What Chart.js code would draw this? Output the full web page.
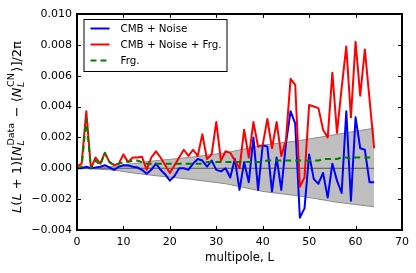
<!DOCTYPE html>
<html>
<head>
<meta charset="utf-8">
<script src="https://cdn.jsdelivr.net/npm/chart.js@4.4.1/dist/chart.umd.min.js"></script>
<style>
  html, body { margin: 0; padding: 0; background: #fff; }
</style>
</head>
<body>
<canvas id="spectrum" width="416" height="273"></canvas>
<script>
// multipole L of each point
const multipoles = [0, 1, 2, 3, 4, 5, 6, 7, 8, 9,
  10, 11, 12, 13, 14, 15, 16, 17, 18, 19,
  20, 21, 22, 23, 24, 25, 26, 27, 28, 29,
  30, 31, 32, 33, 34, 35, 36, 37, 38, 39,
  40, 41, 42, 43, 44, 45, 46, 47, 48, 49,
  50, 51, 52, 53, 54, 55, 56, 57, 58, 59,
  60, 61, 62, 63, 64];

// CMB + Noise (blue)
const cmbNoise = [0, 0, 0.0001, 0.0, 0.00005, 0.0001, 0.0002, 0.00005, -0.0001, 0.0001,
  0.0002, 0.00018, 0.0001, 0.00005, -0.0001, -0.00035, -0.0001, 0.0003, -0.0001, -0.0004,
  -0.0008, -0.0005, 0.0, 0.0, -0.0001, 0.0003, 0.0006, 0.0005, 0.0001, 0.0005,
  -0.0001, -0.0002, 0.0, -0.0006, 0.0006, -0.0014, 0.0004, -0.0009, 0.002, -0.0014,
  0.0015, 0.0014, -0.0015, 0.0007, -0.0014, 0.0016, 0.0037, 0.0029, -0.0032, -0.0026,
  0.0009, -0.0007, -0.001, -0.0003, -0.0019, 0.0003, -0.0008, -0.0016, 0.0037, -0.0021,
  0.0033, 0.0013, 0.0012, -0.0009, -0.0009];

// CMB + Noise + Frg. (red)
const cmbNoiseFrg = [0.0001, 0.0003, 0.0037, 0.0, 0.0007, 0.0003, 0.001, 0.0004, 0.0002, 0.0003,
  0.0009, 0.0004, 0.0007, 0.0007, 0.00075, -0.0001, 0.0007, 0.0011, 0.0007, 0.0002,
  -0.0003, 0.0002, 0.0007, 0.0012, 0.0008, 0.0012, 0.0008, 0.0022, 0.0006, 0.0009,
  0.003, 0.0005, 0.0011, 0.001, 0.0005, 0.0, 0.0025, 0.0007, 0.003, 0.0014,
  0.0015, 0.0032, 0.0013, 0.003, 0.0008, 0.0018, 0.0058, 0.0054, -0.0012, -0.0006,
  0.0041, 0.004, 0.0039, 0.0025, 0.002, 0.0062, 0.0023, 0.0052, 0.0079, 0.0033,
  0.0082, 0.0047, 0.0077, 0.0045, 0.0013];

// Frg. (green dashed)
const foreground = [0, 0.0001, 0.0032, 0.0, 0.0005, 0.0002, 0.001, 0.0004, 0.0002, 0.0003,
  0.0004, 0.0004, 0.0005, 0.0005, 0.0004, 0.0003, 0.0003, 0.0003, 0.0003, 0.0003,
  0.0003, 0.0003, 0.0003, 0.0003, 0.0003, 0.0003, 0.0003, 0.0003, 0.0004, 0.0004,
  0.0004, 0.0004, 0.0004, 0.0004, 0.0004, 0.0004, 0.0004, 0.0004, 0.0004, 0.0004,
  0.0004, 0.0005, 0.0005, 0.0005, 0.0005, 0.0005, 0.0005, 0.0005, 0.0005, 0.0005,
  0.0005, 0.0005, 0.0005, 0.0006, 0.0006, 0.0006, 0.0006, 0.0007, 0.0007, 0.0006,
  0.0007, 0.0007, 0.0007, 0.0007, 0.0006];

// grey error band
const bandL = [0, 4, 8, 12, 16, 24, 32, 40, 48, 56, 64];
const bandUpper = [0, 0.00005, 0.00012, 0.0003, 0.00046, 0.0007, 0.001, 0.0015, 0.0018, 0.0022, 0.0026];
const bandLower = [0, -0.00005, -0.00012, -0.0003, -0.00045, -0.0007, -0.001, -0.0015, -0.0018, -0.0022, -0.0025];
const zeroL = [0, 64];
const zeroLevel = [0, 0];

const xTicks = [0, 10, 20, 30, 40, 50, 60, 70];
const yTicks = [-0.004, -0.002, 0, 0.002, 0.004, 0.006, 0.008, 0.010];

const FONT = "'DejaVu Sans', 'Liberation Sans', sans-serif";

function pts(xs, ys) {
  return xs.map((x, i) => ({ x: x, y: ys[i] }));
}

function fmtY(v) {
  if (Math.abs(v) < 1e-9) return '0.000';
  return (v < 0 ? '\u2212' : '') + Math.abs(v).toFixed(3);
}

// frame + inward ticks on all four sides
const frame = {
  id: 'frame',
  afterDatasetsDraw(chart) {
    const { ctx, chartArea: a, scales: { x, y } } = chart;
    ctx.save();
    ctx.strokeStyle = '#000';
    ctx.lineWidth = 1;
    ctx.beginPath();
    xTicks.forEach(t => {
      const px = Math.round(x.getPixelForValue(t)) + 0.5;
      ctx.moveTo(px, a.bottom); ctx.lineTo(px, a.bottom - 4);
      ctx.moveTo(px, a.top); ctx.lineTo(px, a.top + 4);
    });
    yTicks.forEach(t => {
      const py = Math.round(y.getPixelForValue(t)) + 0.5;
      ctx.moveTo(a.left, py); ctx.lineTo(a.left + 4, py);
      ctx.moveTo(a.right, py); ctx.lineTo(a.right - 4, py);
    });
    ctx.stroke();
    ctx.lineWidth = 2;
    ctx.strokeRect(a.left, a.top, a.right - a.left, a.bottom - a.top);
    ctx.restore();
  }
};

// legend box in upper left of the axes
const legendBox = {
  id: 'legendBox',
  afterDraw(chart) {
    const { ctx, chartArea: a } = chart;
    const items = chart.data.datasets.filter(d => d.inLegend);
    const x0 = a.left + 6.5, y0 = a.top + 5, w = 143, h = 52;
    ctx.save();
    ctx.fillStyle = '#fff';
    ctx.fillRect(x0, y0, w, h);
    ctx.strokeStyle = '#000';
    ctx.lineWidth = 1;
    ctx.strokeRect(x0 + 0.5, y0 + 0.5, w, h);
    items.forEach((d, i) => {
      const cy = y0 + 9.5 + i * 16;
      ctx.beginPath();
      ctx.strokeStyle = d.borderColor;
      ctx.lineWidth = 2;
      ctx.setLineDash(d.borderDash || []);
      ctx.moveTo(x0 + 7, cy);
      ctx.lineTo(x0 + 26, cy);
      ctx.stroke();
      ctx.setLineDash([]);
      ctx.fillStyle = '#000';
      ctx.font = '10.3px ' + FONT;
      ctx.textBaseline = 'middle';
      ctx.fillText(d.label, x0 + 37, cy + 0.5);
    });
    ctx.restore();
  }
};

// rotated y-axis label with sub/superscripts
const yTitle = {
  id: 'yTitle',
  afterDraw(chart) {
    const { ctx } = chart;
    const base = 13, small = 9.5;
    const parts = [
      { t: 'L', it: true }, { t: '(' }, { t: 'L', it: true }, { t: ' + ' }, { t: '1)[' },
      { t: 'N', it: true }, { sub: 'L', sup: 'Data' },
      { t: ' \u2212 \u27e8' }, { t: 'N', it: true }, { sub: 'L', sup: 'CN' },
      { t: '\u27e9]/2\u03c0' }
    ];
    const fBase = s => (s.it ? 'italic ' : '') + base + 'px ' + FONT;
    ctx.save();
    let total = 0;
    parts.forEach(p => {
      if (p.t !== undefined) {
        ctx.font = fBase(p);
        p.w = ctx.measureText(p.t).width;
      } else {
        ctx.font = 'italic ' + small + 'px ' + FONT;
        const ws = ctx.measureText(p.sub).width;
        ctx.font = small + 'px ' + FONT;
        const wp = ctx.measureText(p.sup).width;
        p.w = Math.max(ws, wp) + 2;
      }
      total += p.w;
    });
    ctx.translate(20.5, 127);
    ctx.rotate(-Math.PI / 2);
    ctx.fillStyle = '#000';
    ctx.textBaseline = 'alphabetic';
    let cx = -total / 2;
    parts.forEach(p => {
      if (p.t !== undefined) {
        ctx.font = fBase(p);
        ctx.fillText(p.t, cx, 0);
      } else {
        ctx.font = 'italic ' + small + 'px ' + FONT;
        ctx.fillText(p.sub, cx + 0.5, 3.5);
        ctx.font = small + 'px ' + FONT;
        ctx.fillText(p.sup, cx + 0.5, -7);
      }
      cx += p.w;
    });
    ctx.restore();
  }
};

const datasets = [
  {
    label: 'band upper',
    data: pts(bandL, bandUpper),
    borderColor: '#8f8f8f', borderWidth: 1,
    backgroundColor: 'rgba(128,128,128,0.5)',
    fill: '+1', pointRadius: 0, order: 6
  },
  {
    label: 'band lower',
    data: pts(bandL, bandLower),
    borderColor: '#8f8f8f', borderWidth: 1,
    fill: false, pointRadius: 0, order: 6
  },
  {
    label: 'zero',
    data: pts(zeroL, zeroLevel),
    borderColor: '#5a5a5a', borderWidth: 1,
    fill: false, pointRadius: 0, order: 5
  },
  {
    label: 'CMB + Noise',
    data: pts(multipoles, cmbNoise),
    borderColor: '#0000ff', borderWidth: 2,
    fill: false, pointRadius: 0, order: 3, inLegend: true
  },
  {
    label: 'CMB + Noise + Frg.',
    data: pts(multipoles, cmbNoiseFrg),
    borderColor: '#ff0000', borderWidth: 2,
    fill: false, pointRadius: 0, order: 2, inLegend: true
  },
  {
    label: 'Frg.',
    data: pts(multipoles, foreground),
    borderColor: '#008000', borderWidth: 2, borderDash: [6, 4],
    fill: false, pointRadius: 0, order: 1, inLegend: true
  }
];

new Chart(document.getElementById('spectrum'), {
  type: 'line',
  data: { datasets: datasets },
  options: {
    responsive: false,
    animation: false,
    events: [],
    layout: { padding: { left: 0, top: 14, right: 14, bottom: 0 } },
    elements: { line: { tension: 0, borderJoinStyle: 'round', borderCapStyle: 'butt' } },
    plugins: { legend: { display: false }, tooltip: { enabled: false } },
    scales: {
      x: {
        type: 'linear', min: 0, max: 70,
        afterFit(s) { s.height = 43; },
        afterBuildTicks(s) { s.ticks = xTicks.map(v => ({ value: v })); },
        grid: { display: false, drawTicks: false },
        border: { display: false },
        ticks: { color: '#000', padding: 6, font: { family: FONT, size: 11 }, maxRotation: 0 },
        title: {
          display: true, text: 'multipole, L', color: '#000',
          font: { family: FONT, size: 11.7 }, padding: { top: 0, bottom: 8 }
        }
      },
      y: {
        type: 'linear', min: -0.004, max: 0.010,
        afterFit(s) { s.width = 77; },
        afterBuildTicks(s) { s.ticks = yTicks.map(v => ({ value: v })); },
        grid: { display: false, drawTicks: false },
        border: { display: false },
        ticks: { color: '#000', padding: 5, font: { family: FONT, size: 11 }, callback: fmtY }
      }
    }
  },
  plugins: [frame, legendBox, yTitle]
});
</script>
</body>
</html>
